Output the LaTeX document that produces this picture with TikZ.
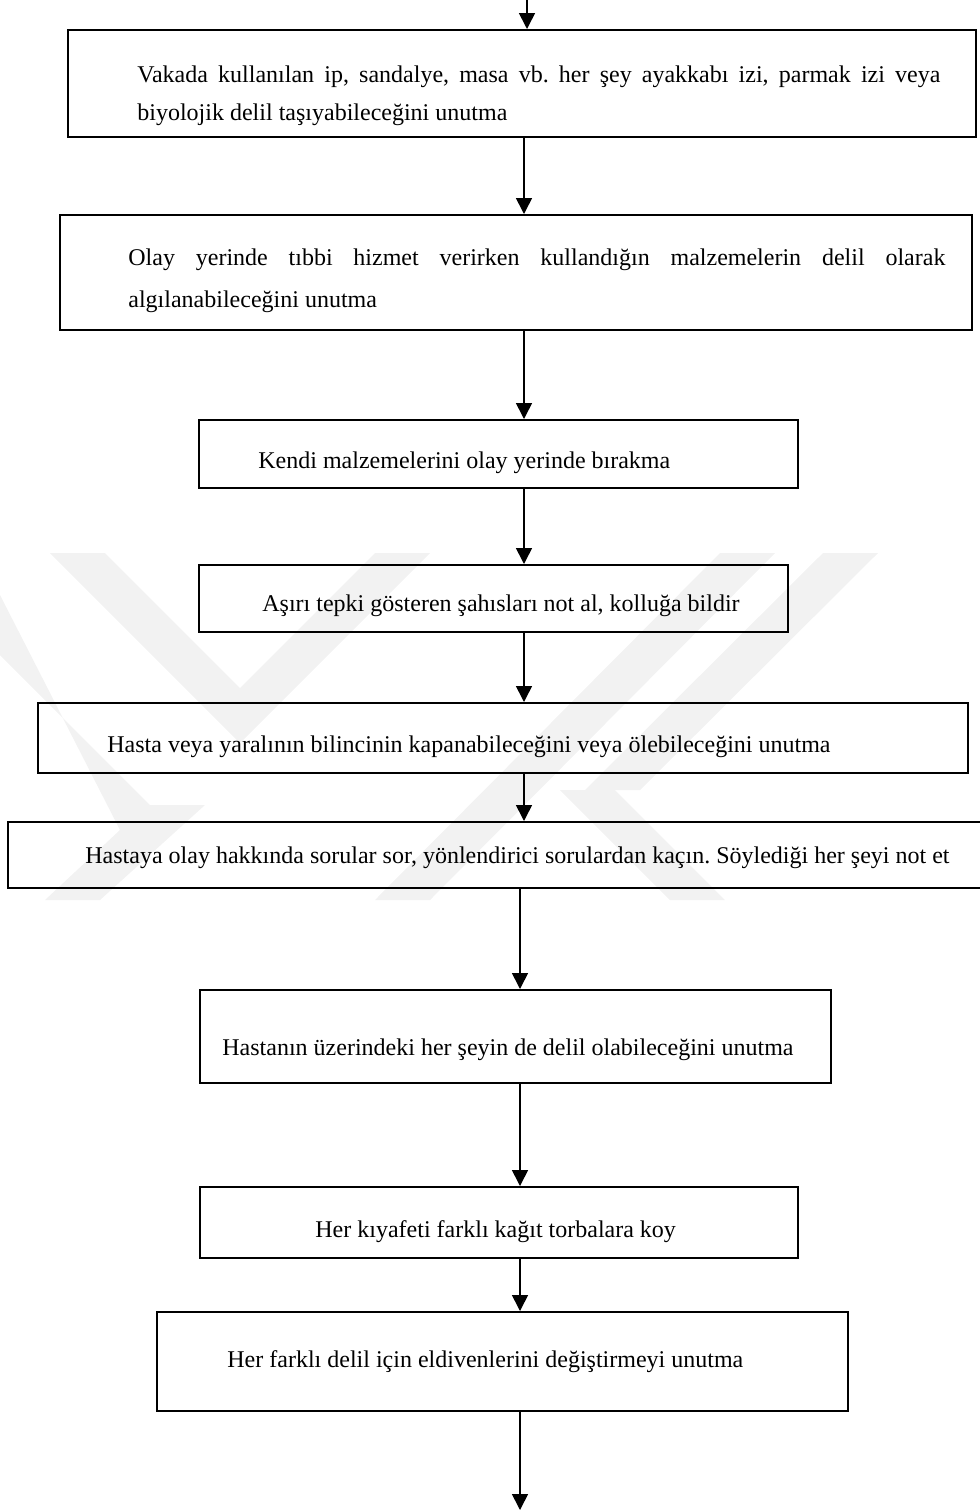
\documentclass[tikz,border=0pt]{standalone}
\usepackage{fontspec}
\setmainfont{Liberation Serif}
\usetikzlibrary{arrows.meta,fit}
\frenchspacing
\begin{document}
\begin{tikzpicture}[x=0.5pt,y=-0.5pt,
  box/.style={draw, line width=1pt, inner sep=0pt},
  flow/.style={line width=0.8pt, -{Triangle[length=8pt,width=8pt]}},
  lbl/.style={anchor=base west, inner sep=0pt, font=\fontsize{12}{19}\selectfont},
  wmark/.style={fill=black!5, draw=none}]
\useasboundingbox (0,0) rectangle (980,1511);

% faint background emblem
\fill[wmark] (50,553) -- (105,553) -- (240,688) -- (375,553) -- (430,553) -- (240,743) -- cycle;
\fill[wmark] (0,595) -- (0,655) -- (150,805) -- (205,805) -- (100,900) -- (45,900) -- (120,830) -- cycle;
\fill[wmark] (720,553) -- (775,553) -- (430,900) -- (375,900) -- cycle;
\fill[wmark] (823,553) -- (878,553) -- (640,790) -- (585,790) -- cycle;
\fill[wmark] (560,790) -- (615,790) -- (725,900) -- (670,900) -- cycle;

% boxes
\node[box, fit={(68,30)(976,137)}] (b1) {};
\node[box, fit={(60,215)(972,330)}] (b2) {};
\node[box, fit={(199,420)(798,488)}] (b3) {};
\node[box, fit={(199,565)(788,632)}] (b4) {};
\node[box, fit={(38,703)(968,773)}] (b5) {};
\node[box, fit={(8,822)(992,888)}] (b6) {};
\node[box, fit={(200,990)(831,1083)}] (b7) {};
\node[box, fit={(200,1187)(798,1258)}] (b8) {};
\node[box, fit={(157,1312)(848,1411)}] (b9) {};

% texts
\node[lbl] (t1a) at (137,82) {\makebox[401.5pt][s]{Vakada kullanılan ip, sandalye, masa vb. her şey ayakkabı izi, parmak izi veya}};
\node[lbl] (t1b) at (137,120) {biyolojik delil taşıyabileceğini unutma};
\node[lbl] (t2a) at (128,265) {\makebox[408.5pt][s]{Olay yerinde tıbbi hizmet verirken kullandığın malzemelerin delil olarak}};
\node[lbl] (t2b) at (128,307) {algılanabileceğini unutma};
\node[lbl] (t3) at (258,468) {Kendi malzemelerini olay yerinde bırakma};
\node[lbl] (t4) at (262,611) {Aşırı tepki gösteren şahısları not al, kolluğa bildir};
\node[lbl] (t5) at (107,752) {Hasta veya yaralının bilincinin kapanabileceğini veya ölebileceğini unutma};
\node[lbl] (t6) at (85,863) {Hastaya olay hakkında sorular sor, yönlendirici sorulardan kaçın. Söylediği her şeyi not et};
\node[lbl] (t7) at (222,1055) {Hastanın üzerindeki her şeyin de delil olabileceğini unutma};
\node[lbl] (t8) at (315,1237) {Her kıyafeti farklı kağıt torbalara koy};
\node[lbl] (t9) at (227,1367) {Her farklı delil için eldivenlerini değiştirmeyi unutma};

% connectors
\coordinate (top) at (527,0);
\coordinate (ua) at (524,0);
\coordinate (la) at (520,0);
\coordinate (bot) at (520,1510);
\draw[flow] (top) -- (b1.north -| top);
\draw[flow] (b1.south -| ua) -- (b2.north -| ua);
\draw[flow] (b2.south -| ua) -- (b3.north -| ua);
\draw[flow] (b3.south -| ua) -- (b4.north -| ua);
\draw[flow] (b4.south -| ua) -- (b5.north -| ua);
\draw[flow] (b5.south -| ua) -- (b6.north -| ua);
\draw[flow] (b6.south -| la) -- (b7.north -| la);
\draw[flow] (b7.south -| la) -- (b8.north -| la);
\draw[flow] (b8.south -| la) -- (b9.north -| la);
\draw[flow] (b9.south -| bot) -- (bot);
\end{tikzpicture}
\end{document}
